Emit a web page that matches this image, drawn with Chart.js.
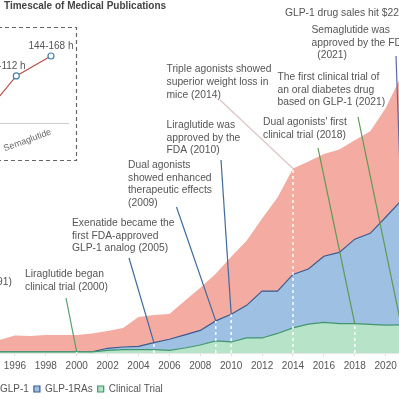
<!DOCTYPE html>
<html>
<head>
<meta charset="utf-8">
<script src="https://cdn.jsdelivr.net/npm/chart.js@4.4.1/dist/chart.umd.min.js"></script>
<style>
  html, body { margin: 0; padding: 0; background: #fff; overflow: hidden; }
  body { width: 399px; height: 399px; position: relative; }
  #mainChart { position: absolute; left: -40px; top: 0; }
  #insetChart { position: absolute; left: -130px; top: 26px; }
</style>
</head>
<body>
<canvas id="mainChart" width="480" height="410"></canvas>
<canvas id="insetChart" width="208" height="136"></canvas>
<script>
// Publications per year (stacked layers)
const years = [1995, 1996, 1997, 1998, 1999, 2000, 2001, 2002, 2003, 2004, 2005, 2006, 2007,
  2008, 2009, 2010, 2011, 2012, 2013, 2014, 2015, 2016, 2017, 2018, 2019, 2020, 2021];
const clinicalTrial = [12, 12, 12, 12, 12, 12, 12, 27, 33, 35, 33, 27, 50,
  80, 120, 110, 150, 150, 195, 250, 287, 305, 293, 293, 285, 277, 280];
const glp1RAs = [0, 0, 0, 0, 0, 0, 0, 20, 27, 32, 70, 110, 130,
  145, 200, 277, 325, 467, 422, 533, 550, 660, 710, 842, 908, 1076, 1240];
const glp1 = [118, 163, 158, 168, 168, 168, 183, 173, 190, 293, 277, 253, 340,
  425, 470, 573, 645, 723, 933, 1057, 1073, 1020, 1027, 985, 1017, 1087, 1240];
const tickYears = [1996, 1998, 2000, 2002, 2004, 2006, 2008, 2010, 2012, 2014, 2016, 2018, 2020];

// milestones
const eventYears = [2000, 2005, 2009, 2010, 2014, 2018, 2021, 2021];
const eventLayers = ['Clinical Trial', 'GLP-1RAs', 'GLP-1RAs', 'GLP-1RAs', 'GLP-1', 'Clinical Trial', 'Clinical Trial', 'GLP-1RAs'];
const eventTexts = [
  ['Liraglutide began', 'clinical trial (2000)'],
  ['Exenatide became the', 'first FDA-approved', 'GLP-1 analog (2005)'],
  ['Dual agonists', 'showed enhanced', 'therapeutic effects', '(2009)'],
  ['Liraglutide was', 'approved by the', 'FDA (2010)'],
  ['Triple agonists showed', 'superior weight loss in', 'mice (2014)'],
  ["Dual agonists' first", 'clinical trial (2018)'],
  ['The first clinical trial of', 'an oral diabetes drug', 'based on GLP-1 (2021)'],
  ['Semaglutide was', 'approved by the FDA', '  (2021)']
];
const salesNote = 'GLP-1 drug sales hit $22';
const earlyNote = '(1991)';

// inset: half-life
const drugs = ['Liraglutide', 'Dulaglutide', 'Semaglutide'];
const halfLife = [13, 110, 156];
const halfLifeLabels = ['', '90-112 h', '144-168 h'];

const FONT = '"Liberation Sans", Arial, sans-serif';
const OFF = 40; // canvas is shifted left by this much

// label layout (page pixels)
const textPos = [[25, 274], [72, 223], [128, 165], [166.5, 125], [166.5, 69.5], [263, 122.5], [277.5, 77], [311.5, 30]];
const leaderStart = [[66, 298], [129, 258], [176.5, 207], [221, 160], [220, 100], [318, 148], [358, 117], [396, 56]];
const leaderColors = ['#55a06e', '#3f6b9c', '#3f6b9c', '#3f6b9c', '#dcc4c4', '#5e9a52', '#5e9a52', '#5a6aa8'];
const insetLabelShift = [0, -10, 0];

const annotations = {
  id: 'annotations',
  afterDatasetsDraw(chart) {
    const ctx = chart.ctx;
    const area = chart.chartArea;
    const ends = eventYears.map((yr, i) => {
      const di = chart.data.datasets.findIndex(d => d.label === eventLayers[i]);
      const pt = chart.getDatasetMeta(di).data[years.indexOf(yr)];
      return { x: pt.x, y: pt.y };
    });
    ctx.save();
    // white dashed drop lines
    ctx.setLineDash([3, 3]);
    ctx.strokeStyle = 'rgba(255,255,255,0.95)';
    ctx.lineWidth = 1.5;
    ends.forEach(e => {
      ctx.beginPath();
      ctx.moveTo(e.x, area.bottom);
      ctx.lineTo(e.x, e.y);
      ctx.stroke();
    });
    ctx.setLineDash([]);
    // leader lines
    ctx.lineWidth = 1.2;
    ends.forEach((e, i) => {
      ctx.strokeStyle = leaderColors[i];
      ctx.beginPath();
      ctx.moveTo(leaderStart[i][0] + OFF, leaderStart[i][1]);
      ctx.lineTo(e.x, e.y);
      ctx.stroke();
    });
    // texts
    ctx.fillStyle = '#555';
    ctx.font = '10.3px ' + FONT;
    ctx.textBaseline = 'middle';
    ctx.textAlign = 'left';
    eventTexts.forEach((lines, i) => {
      lines.forEach((t, j) => ctx.fillText(t, textPos[i][0] + OFF, textPos[i][1] + j * 12.7));
    });
    ctx.fillText(salesNote, 285 + OFF, 13);
    ctx.textAlign = 'right';
    ctx.fillText(earlyNote, 12 + OFF, 282);
    // title
    ctx.textAlign = 'left';
    ctx.fillStyle = '#444';
    ctx.font = 'bold 10px ' + FONT;
    ctx.fillText('Timescale of Medical Publications', 4 + OFF, 6);
    ctx.restore();
  }
};

new Chart(document.getElementById('mainChart'), {
  type: 'line',
  data: {
    labels: years,
    datasets: [
      { label: 'Clinical Trial', data: clinicalTrial, backgroundColor: '#b7e4c9', borderColor: '#40966e', borderWidth: 1.2, fill: 'origin' },
      { label: 'GLP-1RAs', data: glp1RAs, backgroundColor: '#9dc0e3', borderColor: '#3c5a8c', borderWidth: 1.2, fill: '-1' },
      { label: 'GLP-1', data: glp1, backgroundColor: '#f4aba1', borderColor: '#f4aba1', borderWidth: 0, fill: '-1' }
    ]
  },
  options: {
    responsive: false,
    animation: false,
    layout: { padding: { left: 24, right: 8, top: 22, bottom: 6 } },
    elements: { point: { radius: 0 }, line: { tension: 0 } },
    plugins: {
      legend: {
        position: 'bottom',
        align: 'start',
        reverse: true,
        labels: { boxWidth: 6, boxHeight: 6, padding: 5, color: '#555', font: { size: 10, family: FONT } }
      },
      tooltip: { enabled: false }
    },
    scales: {
      x: {
        type: 'linear',
        min: 1994,
        max: 2023,
        afterBuildTicks: s => { s.ticks = tickYears.map(v => ({ value: v })); },
        afterFit: s => { s.height += 3; },
        grid: { drawOnChartArea: false, tickLength: 3, color: '#dddddd' },
        border: { color: '#e6e6e6' },
        ticks: { padding: 4, color: '#555', font: { size: 10, family: FONT }, callback: v => String(v) }
      },
      y: { display: false, stacked: true, min: 0, max: 3300 }
    }
  },
  plugins: [annotations]
});

// inset chart
const insetDecor = {
  id: 'insetDecor',
  afterDatasetsDraw(chart) {
    const ctx = chart.ctx;
    const pts = chart.getDatasetMeta(0).data;
    ctx.save();
    ctx.fillStyle = '#555';
    ctx.font = '10px ' + FONT;
    ctx.textAlign = 'center';
    ctx.textBaseline = 'middle';
    pts.forEach((p, i) => ctx.fillText(halfLifeLabels[i], p.x + insetLabelShift[i], p.y - 10));
    ctx.restore();
  },
  afterDraw(chart) {
    const ctx = chart.ctx;
    ctx.save();
    ctx.strokeStyle = '#666';
    ctx.lineWidth = 1.2;
    ctx.setLineDash([4, 3]);
    ctx.strokeRect(2, 1.5, 204.5, 133);
    ctx.restore();
  }
};

new Chart(document.getElementById('insetChart'), {
  type: 'line',
  data: {
    labels: drugs,
    datasets: [{
      data: halfLife,
      borderColor: '#b9504a',
      borderWidth: 1.2,
      pointRadius: 3,
      pointBackgroundColor: '#fff',
      pointBorderColor: '#4a7fb0',
      pointBorderWidth: 1.2,
      tension: 0,
      clip: false
    }]
  },
  options: {
    responsive: false,
    animation: false,
    layout: { padding: { left: 94.3, right: 9.7, top: 30, bottom: 5 } },
    plugins: { legend: { display: false }, tooltip: { enabled: false } },
    scales: {
      x: {
        offset: true,
        grid: { display: false, drawTicks: false },
        border: { color: '#cccccc' },
        ticks: { minRotation: 20, maxRotation: 20, padding: 3, color: '#666', font: { size: 9, family: FONT } }
      },
      y: { display: false, min: 0, max: 156 }
    }
  },
  plugins: [insetDecor]
});
</script>
</body>
</html>
